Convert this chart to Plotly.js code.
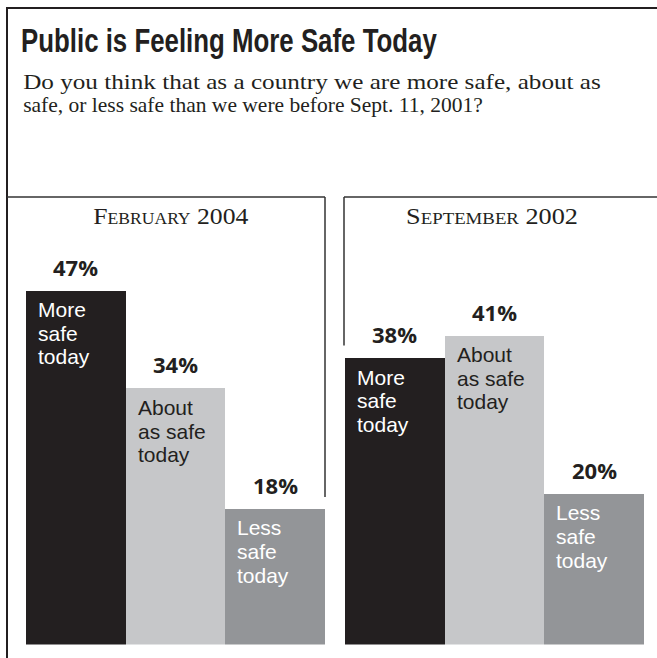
<!DOCTYPE html>
<html>
<head>
<meta charset="utf-8">
<script src="https://cdn.plot.ly/plotly-3.0.1.min.js"></script>
<style>
  html, body { margin: 0; padding: 0; background: #ffffff; }
  #chart { width: 657px; height: 658px; }
</style>
</head>
<body>
<div id="chart"></div>
<script>
// ---- Data ----
const categories = ['More safe today', 'About as safe today', 'Less safe today'];
const barLabelLines = [['More', 'safe', 'today'], ['About', 'as safe', 'today'], ['Less', 'safe', 'today']];
const panelTitles = ['February 2004', 'September 2002'];
const feb2004 = [47, 34, 18];
const sep2002 = [38, 41, 20];
const chartTitle = 'Public is Feeling More Safe Today';
const questionLines = [
  'Do you think that as a country we are more safe, about as',
  'safe, or less safe than we were before Sept. 11, 2001?'
];

// ---- Styles ----
const barColors = ['#231f20', '#c6c7c9', '#939598'];
const labelColors = ['#ffffff', '#231f20', '#ffffff'];
const ink = '#231f20';
const W = 657, H = 658;
const px = x => x / W;
const py = y => 1 - y / H;
const sansFont = 'Open Sans, Noto Sans, sans-serif';
const labelFont = 'Liberation Sans, Arial, sans-serif';
const serifFont = 'Liberation Serif, DejaVu Serif, serif';
const yTop = 59.43;

const series = [feb2004, sep2002];
const axes = [['x', 'y'], ['x2', 'y2']];

const traces = series.map((vals, i) => ({
  type: 'bar',
  x: categories,
  y: vals,
  xaxis: axes[i][0],
  yaxis: axes[i][1],
  marker: { color: barColors, line: { width: 0 } },
  hoverinfo: 'skip',
  showlegend: false
}));

const annotations = [];
// question lines
questionLines.forEach((t, i) => {
  annotations.push({
    text: t, xref: 'paper', yref: 'paper', x: px(21), y: py(81 + i * 23.5),
    xanchor: 'left', yanchor: 'middle', showarrow: false,
    font: { family: serifFont, size: 22, color: ink }
  });
});
// panel titles
const panelCenters = [171, 491.5];
panelTitles.forEach((t, i) => {
  annotations.push({
    text: t, xref: 'paper', yref: 'paper', x: px(panelCenters[i]), y: py(216),
    xanchor: 'center', yanchor: 'middle', showarrow: false,
    font: { family: serifFont, size: 24, color: ink, variant: 'small-caps' }
  });
});
// values and bar labels
series.forEach((vals, s) => {
  vals.forEach((v, k) => {
    annotations.push({
      text: v + '%', xref: axes[s][0], yref: axes[s][1], x: categories[k], y: v,
      xanchor: 'center', yanchor: 'bottom', yshift: 7, showarrow: false,
      font: { family: sansFont, size: 22, color: ink, weight: 'bold' }
    });
    barLabelLines[k].forEach((line, j) => {
      annotations.push({
        text: line, xref: axes[s][0], yref: axes[s][1], x: categories[k], y: v,
        xanchor: 'left', yanchor: 'top', xshift: -39, yshift: -6.5 - j * 23.6,
        borderpad: 0, showarrow: false,
        font: { family: labelFont, size: 21, color: labelColors[k] }
      });
    });
  });
});

const frame = { color: ink, width: 2 };
const panelLine = { color: '#333333', width: 1.5 };
const shapes = [
  // outer frame
  { type: 'line', xref: 'paper', yref: 'paper', x0: px(7), x1: px(657), y0: py(8), y1: py(8), line: frame },
  { type: 'line', xref: 'paper', yref: 'paper', x0: px(7), x1: px(7), y0: py(7), y1: py(658), line: frame },
  // left panel
  { type: 'line', xref: 'paper', yref: 'paper', x0: px(7), x1: px(325), y0: py(197), y1: py(197), line: panelLine },
  { type: 'line', xref: 'paper', yref: 'y', x0: px(325), x1: px(325), y0: feb2004[2] + 1.6, y1: yTop, line: panelLine },
  // right panel
  { type: 'line', xref: 'paper', yref: 'paper', x0: px(344), x1: px(657), y0: py(197), y1: py(197), line: panelLine },
  { type: 'line', xref: 'paper', yref: 'y2', x0: px(344), x1: px(344), y0: sep2002[0] + 1.7, y1: yTop, line: panelLine }
];

const hiddenX = { visible: false, fixedrange: true };
const hiddenY = { visible: false, fixedrange: true, range: [0, yTop] };

const layout = {
  width: W, height: H,
  margin: { l: 0, r: 0, t: 0, b: 0, pad: 0 },
  paper_bgcolor: '#ffffff', plot_bgcolor: 'rgba(0,0,0,0)',
  bargap: 0,
  title: {
    text: chartTitle, xref: 'paper', yref: 'paper', x: px(21), y: py(40.5),
    xanchor: 'left', yanchor: 'middle',
    font: { family: 'Liberation Sans, Arial, sans-serif', size: 34, color: ink, weight: 'bold' }
  },
  xaxis: Object.assign({ domain: [px(26), px(325)] }, hiddenX),
  yaxis: Object.assign({ domain: [1 - 644.5 / H, py(197)], anchor: 'x' }, hiddenY),
  xaxis2: Object.assign({ domain: [px(345), px(644)], anchor: 'y2' }, hiddenX),
  yaxis2: Object.assign({ domain: [1 - 644.5 / H, py(197)], anchor: 'x2' }, hiddenY),
  annotations: annotations,
  shapes: shapes,
  showlegend: false
};

// Horizontally fit a text element to the width the original typeface occupies
function fitWidth(el, target, centered) {
  if (!el) return;
  const bb = el.getBBox();
  if (!bb.width) return;
  const s = target / bb.width;
  const x0 = centered ? bb.x + bb.width / 2 : bb.x;
  const prev = el.getAttribute('transform') || '';
  el.setAttribute('transform', (prev + ' translate(' + x0 + ',0) scale(' + s + ',1) translate(' + (-x0) + ',0)').trim());
}

Plotly.newPlot('chart', traces, layout, { displayModeBar: false, staticPlot: true }).then(() => {
  const leftTargets = {};
  leftTargets[questionLines[0]] = 578;
  leftTargets[questionLines[1]] = 460;
  const centerTargets = {};
  centerTargets[panelTitles[0]] = 158;
  centerTargets[panelTitles[1]] = 171;
  fitWidth(document.querySelector('.gtitle'), 416, false);
  document.querySelectorAll('.annotation-text').forEach(el => {
    const t = el.textContent;
    if (leftTargets[t]) fitWidth(el, leftTargets[t], false);
    if (centerTargets[t]) fitWidth(el, centerTargets[t], true);
  });
});
</script>
</body>
</html>
